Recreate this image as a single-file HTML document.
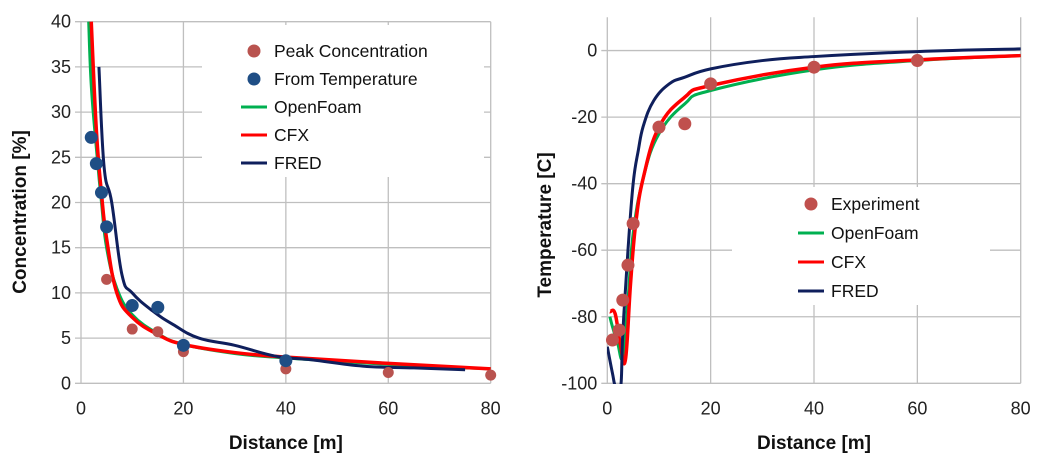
<!DOCTYPE html>
<html><head><meta charset="utf-8"><style>
body{margin:0;background:#fff;}
svg{display:block;font-family:"Liberation Sans",sans-serif;}
</style></head><body>
<svg id="svg" width="1041" height="469">
<defs>
<clipPath id="cl"><rect x="81" y="21" width="410" height="363"/></clipPath>
<clipPath id="cr"><rect x="607" y="17" width="414" height="367"/></clipPath>
</defs>
</svg>
<script>
// ---- Left chart data ----
const lXTicks=[0,20,40,60,80];
const lYTicks=[0,5,10,15,20,25,30,35,40];
const peakX=[5,10,15,20,40,60,80];
const peakY=[11.5,6,5.7,3.5,1.6,1.2,0.9];
const tempX=[2,3,4,5,10,15,20,40];
const tempY=[27.2,24.3,21.1,17.3,8.6,8.4,4.2,2.5];
const lOfX=[1.5,2,3,4,5,7,10,15,20,30,40,60,80];
const lOfY=[40,33,26,20,15,10.5,7.6,5.5,4.3,3.3,2.8,2.1,1.6];
const lCfxX=[2,3,4,5,7,10,15,20,30,40,60,80];
const lCfxY=[40,28,21,16,10,7.3,5.4,4.3,3.4,2.9,2.2,1.6];
const lFredX=[3.5,4.5,6,8,10,14,18,23,30,38,45,55,65,75];
const lFredY=[35,24,20,12,10,8,6.5,5,4.2,3,2.6,1.9,1.7,1.5];
// ---- Right chart data ----
const rXTicks=[0,20,40,60,80];
const rYTicks=[0,-20,-40,-60,-80,-100];
const expX=[1,2.3,3,4,5,10,15,20,40,60];
const expY=[-87,-84,-75,-64.5,-52,-23,-22,-10,-5,-3];
const rOfX=[0.5,1,2,3,4,5,7,10,15,20,40,60,80];
const rOfY=[-80,-83,-88,-92,-75,-55,-38,-25,-16,-12,-5.8,-3,-1.5];
const rCfxX=[0.5,1.5,2.5,3.5,4.5,5.5,7,10,15,20,40,60,80];
const rCfxY=[-78.5,-79,-88,-93,-70,-52,-38,-23,-14,-10.5,-5,-2.8,-1.5];
const rFredX=[0,1,1.6,2.6,3,4,5,6,7,9,12,15,20,30,40,60,80];
const rFredY=[-89,-97,-101,-101,-85,-60,-40,-30,-22.5,-15,-10,-8,-5.5,-3,-1.8,-0.3,0.5];

const svg=document.getElementById('svg');
const NS='http://www.w3.org/2000/svg';
function mk(tag,attrs,parent){const e=document.createElementNS(NS,tag);for(const k in attrs)e.setAttribute(k,attrs[k]);(parent||svg).appendChild(e);return e;}
function smooth(P){
  let d='M'+P[0][0]+','+P[0][1];
  for(let i=0;i<P.length-1;i++){
    const p0=P[Math.max(i-1,0)],p1=P[i],p2=P[i+1],p3=P[Math.min(i+2,P.length-1)];
    const t=0.2;
    const c1=[p1[0]+(p2[0]-p0[0])*t,p1[1]+(p2[1]-p0[1])*t];
    const c2=[p2[0]-(p3[0]-p1[0])*t,p2[1]-(p3[1]-p1[1])*t];
    d+=' C'+c1.join(',')+' '+c2.join(',')+' '+p2.join(',');
  }
  return d;
}

function chart(o){
  const g=mk('g',{});
  
  
  const sx=v=>o.x0+(v-o.xmin)/(o.xmax-o.xmin)*(o.x1-o.x0);
  const sy=v=>o.y0+(v-o.ymin)/(o.ymax-o.ymin)*(o.y1-o.y0);
  o.xt.forEach(v=>{const l=mk('line',{x1:sx(v),x2:sx(v),y1:o.y1top,y2:o.y0,stroke:'#bfbfbf','stroke-width':1.3},g);
    
    const t=mk('text',{x:sx(v),y:o.y0+31,'text-anchor':'middle','font-size':18,fill:'#222'},g);t.textContent=v;
    });
  o.yt.forEach(v=>{const l=mk('line',{x1:o.x0-6,x2:o.x1,y1:sy(v),y2:sy(v),stroke:'#bfbfbf','stroke-width':1.3},g);
    
    const t=mk('text',{x:o.x0-10,y:sy(v)+6,'text-anchor':'end','font-size':18,fill:'#222'},g);t.textContent=v;
    });
  const lb=mk('rect',Object.assign({fill:'#fff'},o.legBox),g);
  
  const cg=mk('g',{'clip-path':o.clip},g);
  o.lines.forEach(s=>{const p=mk('path',{d:smooth(s.x.map((x,i)=>[sx(x),sy(s.y[i])])),fill:'none',stroke:s.c,'stroke-width':s.w,'stroke-linejoin':'round'},cg);
    });
  o.pts.forEach(s=>{s.x.forEach((x,i)=>{const c=mk('circle',{cx:sx(x),cy:sy(s.y[i]),r:s.r,fill:s.c},g);
    });});
  o.leg.forEach((e,i)=>{const y=o.legY+i*o.legDy;
    if(e.t==='p'){const c=mk('circle',{cx:o.legX+13,cy:y,r:6.5,fill:e.c},g);}
    else{const l=mk('line',{x1:o.legX,x2:o.legX+26,y1:y,y2:y,stroke:e.c,'stroke-width':3},g);}
    const t=mk('text',{x:o.legX+33,y:y+6,'font-size':17.5,fill:'#111'},g);t.textContent=e.l;
    });
  const xt=mk('text',{x:(o.x0+o.x1)/2,y:449,'text-anchor':'middle','font-size':19,'font-weight':'bold',fill:'#111'},g);xt.textContent='Distance [m]';
  
  const yt=mk('text',{x:0,y:0,transform:`translate(${o.ytX},${o.ytY}) rotate(-90)`,'text-anchor':'middle','font-size':19,'font-weight':'bold',fill:'#111'},g);yt.textContent=o.ytitle;
  
}
chart({name:'concentration-chart',x0:81,x1:490.7,xmin:0,xmax:80,y0:383.3,y1:21.7,y1top:21.7,ymin:0,ymax:40,xt:lXTicks,yt:lYTicks,
  clip:'url(#cl)',legBox:{x:202,y:25,width:282,height:152},
  lines:[{x:lOfX,y:lOfY,c:'#00b050',w:3,n:'openfoam-line'},{x:lCfxX,y:lCfxY,c:'#ff0000',w:3.5,n:'cfx-line'},{x:lFredX,y:lFredY,c:'#0f1f5c',w:3,n:'fred-line'}],
  pts:[{x:peakX,y:peakY,c:'#b9534f',r:5.5,n:'peak-point'},{x:tempX,y:tempY,c:'#1f4e85',r:6.5,n:'temperature-point'}],
  leg:[{t:'p',c:'#b9534f',l:'Peak Concentration'},{t:'p',c:'#1f4e85',l:'From Temperature'},{t:'l',c:'#00b050',l:'OpenFoam'},{t:'l',c:'#ff0000',l:'CFX'},{t:'l',c:'#0f1f5c',l:'FRED'}],
  legX:241,legY:51,legDy:28,ytitle:'Concentration [%]',ytX:26,ytY:212});
chart({name:'temperature-chart',x0:607.3,x1:1020.7,xmin:0,xmax:80,y0:383.3,y1:17.3,y1top:17.3,ymin:-100,ymax:10,xt:rXTicks,yt:rYTicks,
  clip:'url(#cr)',legBox:{x:732,y:187,width:258,height:118},
  lines:[{x:rOfX,y:rOfY,c:'#00b050',w:3,n:'openfoam-line'},{x:rCfxX,y:rCfxY,c:'#ff0000',w:3.5,n:'cfx-line'},{x:rFredX,y:rFredY,c:'#0f1f5c',w:3,n:'fred-line'}],
  pts:[{x:expX,y:expY,c:'#c0504d',r:6.5,n:'experiment-point'}],
  leg:[{t:'p',c:'#c0504d',l:'Experiment'},{t:'l',c:'#00b050',l:'OpenFoam'},{t:'l',c:'#ff0000',l:'CFX'},{t:'l',c:'#0f1f5c',l:'FRED'}],
  legX:798,legY:204,legDy:29,ytitle:'Temperature [C]',ytX:551,ytY:225});
</script>
</body></html>
